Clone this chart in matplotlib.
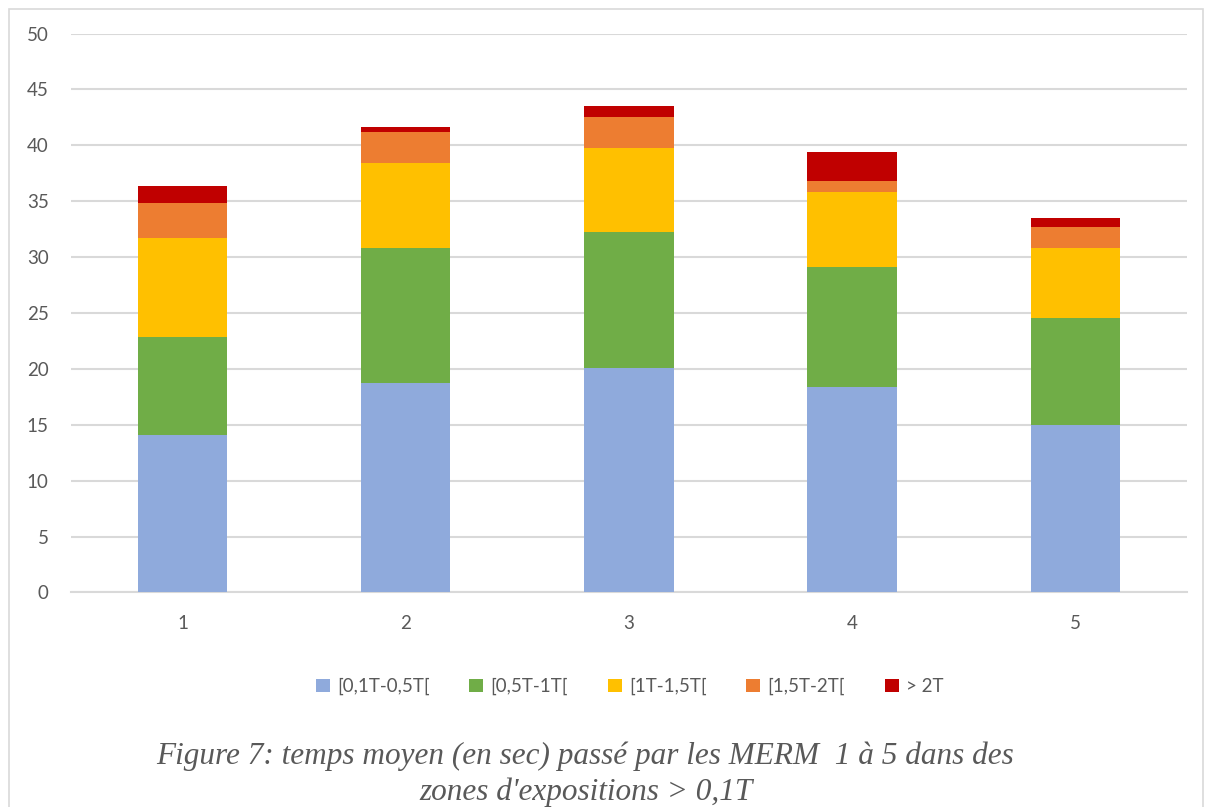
import matplotlib.pyplot as plt
from matplotlib.patches import Patch, Rectangle
import numpy as np

categories = ['1', '2', '3', '4', '5']
labels = ['[0,1T-0,5T[', '[0,5T-1T[', '[1T-1,5T[', '[1,5T-2T[', '> 2T']
s_01_05 = [14.09, 18.72, 20.07, 18.37, 14.94]
s_05_1 = [8.77, 12.10, 12.17, 10.75, 9.62]
s_1_15 = [8.81, 7.64, 7.53, 6.68, 6.26]
s_15_2 = [3.21, 2.72, 2.73, 1.00, 1.88]
s_2 = [1.46, 0.50, 1.02, 2.58, 0.84]
colors = ['#8FAADC', '#70AD47', '#FFC000', '#ED7D31', '#C00000']

series = [s_01_05, s_05_1, s_1_15, s_15_2, s_2]

fig = plt.figure(figsize=(12.13, 8.07), dpi=100)
ax = fig.add_axes([0.0585, 0.2658, 0.920, 0.6926])

x = np.arange(len(categories))
bottom = np.zeros(len(categories))
for vals, col, lab in zip(series, colors, labels):
    ax.bar(x, vals, width=0.4, bottom=bottom, color=col, label=lab, zorder=3)
    bottom += np.array(vals)

ax.set_xlim(-0.5, 4.5)
ax.set_ylim(0, 50)
ax.set_yticks(range(0, 51, 5))
ax.set_xticks(x)
ax.set_xticklabels(categories)
ax.yaxis.grid(True, color='#d9d9d9', linewidth=1.5, zorder=0)
for sp in ['top', 'right', 'left']:
    ax.spines[sp].set_visible(False)
ax.spines['bottom'].set_color('#d9d9d9')
ax.spines['bottom'].set_linewidth(1.5)
ax.tick_params(axis='both', length=0, labelsize=13.5, labelcolor='#595959')
ax.tick_params(axis='y', pad=16)
ax.tick_params(axis='x', pad=16)
for t in ax.get_xticklabels() + ax.get_yticklabels():
    t.set_fontfamily('Lato')

handles = [Patch(facecolor=c) for c in colors]
fig.legend(handles, labels, loc='center', bbox_to_anchor=(0.519, 0.149), ncol=5,
           frameon=False, handlelength=0.75, handleheight=0.75, handletextpad=0.4,
           columnspacing=2.1, prop={'family': 'Lato', 'size': 13.5}, labelcolor='#595959')

# outer chart border
fig.patches.append(Rectangle((9 / 1213, -0.01), 1194 / 1213, 1 - 9 / 807 + 0.01,
                             transform=fig.transFigure, fill=False,
                             edgecolor='#d9d9d9', linewidth=1.2))

fig.text(0.482, (807 - 756) / 807, "Figure 7: temps moyen (en sec) passé par les MERM  1 à 5 dans des",
         ha='center', va='center', fontsize=22.5, style='italic', family='Liberation Serif',
         color='#595959')
fig.text(0.483, (807 - 792) / 807, "zones d'expositions > 0,1T",
         ha='center', va='center', fontsize=22.5, style='italic', family='Liberation Serif',
         color='#595959')

fig.savefig('out.png', dpi=100)
